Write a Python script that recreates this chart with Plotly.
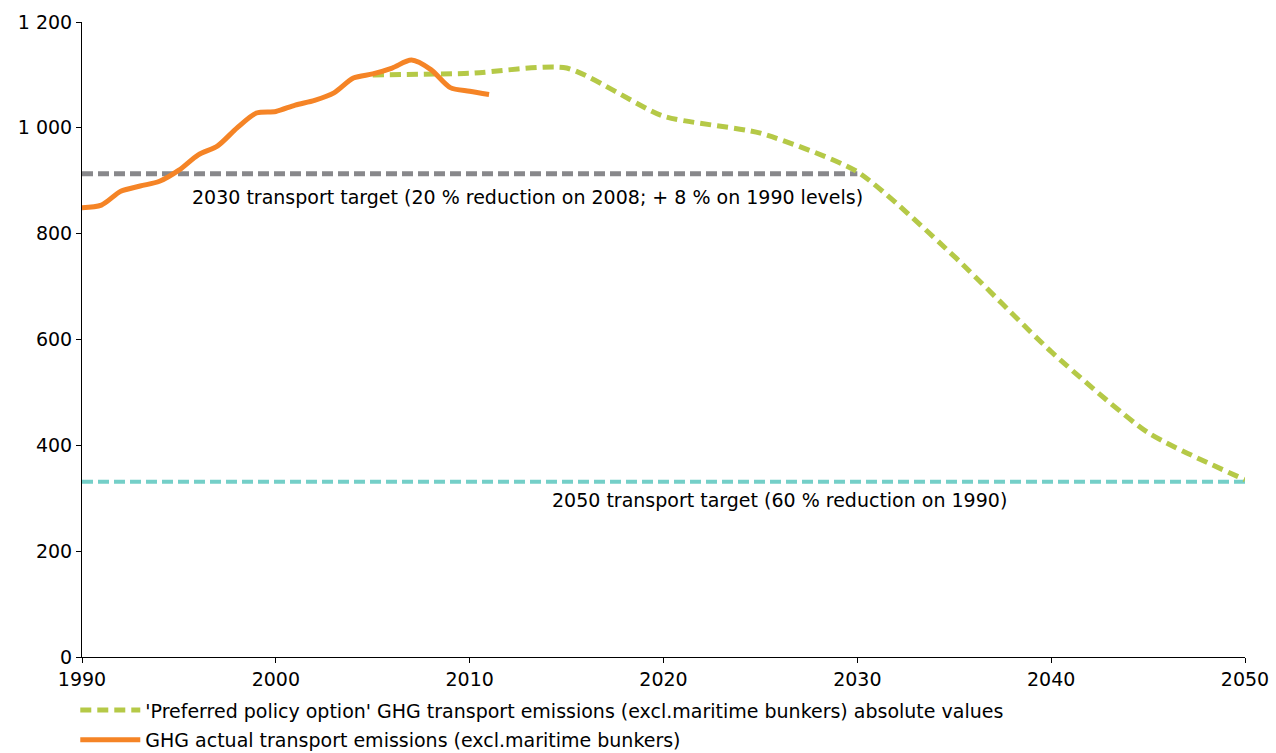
import plotly.graph_objects as go

# Actual emissions (Mt CO2-eq)
actual_years = list(range(1990, 2012))
actual_values = [849, 854, 880, 890, 899, 920, 949, 966, 1000, 1028, 1031, 1043,
                 1052, 1066, 1094, 1102, 1113, 1128, 1110, 1076, 1069, 1063]

# 'Preferred policy option' projection
policy_years = [2005, 2010, 2015, 2020, 2025, 2030, 2035, 2040, 2045, 2050]
policy_values = [1100, 1103, 1113, 1022, 990, 917, 757, 577, 424, 335]

# Targets
target2030_years = [1990, 2030]
target2030_values = [913, 913]
target2050_years = [1990, 2050]
target2050_values = [331, 331]

y_ticks = [0, 200, 400, 600, 800, 1000, 1200]
y_ticklabels = ["0", "200", "400", "600", "800", "1 000", "1 200"]
x_ticks = [1990, 2000, 2010, 2020, 2030, 2040, 2050]

FONT = "DejaVu Sans, Verdana, sans-serif"
FS = 19

fig = go.Figure()
fig.add_trace(go.Scatter(x=target2030_years, y=target2030_values, mode="lines",
                         line=dict(color="#88888b", width=5, dash="11px,5px"),
                         showlegend=False, hoverinfo="skip"))
fig.add_trace(go.Scatter(x=target2050_years, y=target2050_values, mode="lines",
                         line=dict(color="#74cfc8", width=4, dash="11px,5px"),
                         showlegend=False, hoverinfo="skip"))
fig.add_trace(go.Scatter(x=policy_years, y=policy_values, mode="lines", legendgroup="a",
                         name="'Preferred policy option' GHG transport emissions (excl.maritime bunkers) absolute values",
                         line=dict(color="#b5c947", width=5, dash="11px,6px", shape="spline", smoothing=0.6)))
fig.add_trace(go.Scatter(x=actual_years, y=actual_values, mode="lines", legendgroup="b",
                         name="GHG actual transport emissions (excl.maritime bunkers)",
                         line=dict(color="#f58426", width=5, shape="spline", smoothing=0.8)))

fig.add_annotation(x=2013.0, y=870, text="2030 transport target (20 % reduction on 2008; + 8 % on 1990 levels)",
                   showarrow=False, font=dict(family=FONT, size=FS, color="#000000"))
fig.add_annotation(x=2026.0, y=297, text="2050 transport target (60 % reduction on 1990)",
                   showarrow=False, font=dict(family=FONT, size=FS, color="#000000"))

fig.update_layout(
    width=1276, height=753, autosize=False,
    margin=dict(l=82, r=31, t=22, b=96, autoexpand=False),
    paper_bgcolor="white", plot_bgcolor="white",
    font=dict(family=FONT, size=FS, color="#000000"),
    legend=dict(xref="container", yref="container", x=0.059, y=0.082,
                xanchor="left", yanchor="top",
                orientation="v", font=dict(family=FONT, size=FS), tracegroupgap=2,
                itemwidth=60),
    xaxis=dict(range=[1990, 2050], tickvals=x_ticks, showgrid=False, zeroline=False,
               showline=True, linecolor="black", linewidth=1, ticks="outside",
               ticklen=5, tickcolor="black", tickfont=dict(family=FONT, size=FS)),
    yaxis=dict(range=[0, 1200], tickvals=y_ticks, ticktext=y_ticklabels, showgrid=False,
               zeroline=False, showline=True, linecolor="black", linewidth=1,
               ticks="outside", ticklen=5, tickcolor="black",
               tickfont=dict(family=FONT, size=FS)),
)

fig.write_html("out.html",
               config={"responsive": False, "displayModeBar": False},
               post_script="document.body.style.margin='0';document.body.style.overflow='hidden';")
